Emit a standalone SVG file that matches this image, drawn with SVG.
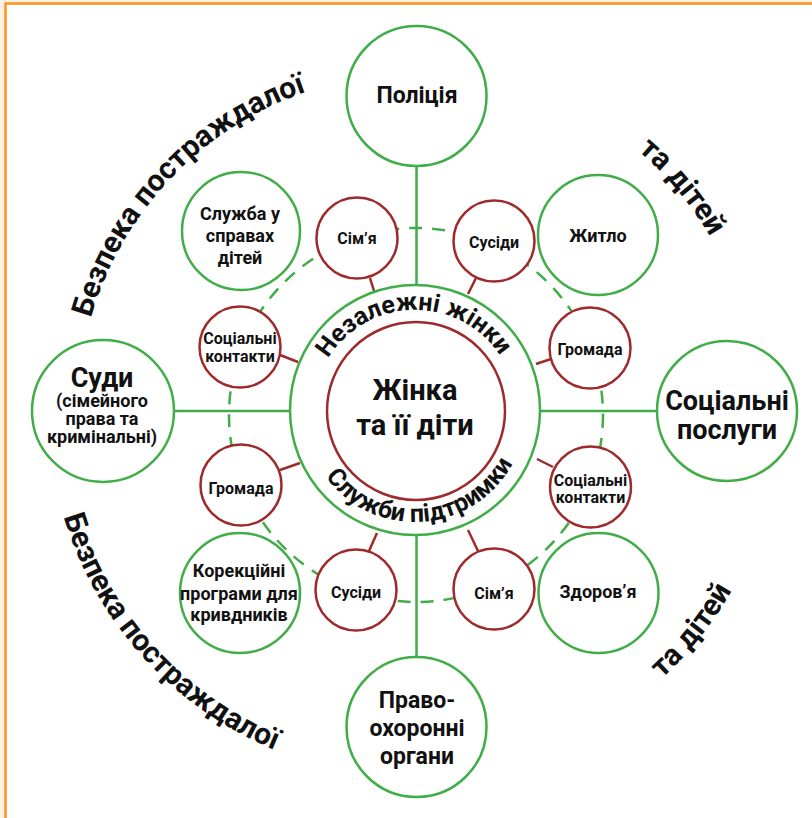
<svg xmlns="http://www.w3.org/2000/svg" width="812" height="818" viewBox="0 0 812 818">
  <defs>
    <style>
      .bg { fill: #fdf1e4; }
      .frame { fill: #ffffff; stroke: #f7941d; stroke-width: 2.5; }
      .g { fill: #ffffff; stroke: #41ad49; stroke-width: 2.5; }
      .r { fill: #ffffff; stroke: #9e2a2b; stroke-width: 2.5; }
      .gl { fill: none; stroke: #41ad49; stroke-width: 2.5; }
      .rl { fill: none; stroke: #9e2a2b; stroke-width: 2.5; }
      .dash { stroke-dasharray: 13 10; }
      text { font-family: Roboto, "Liberation Sans", sans-serif; font-weight: 700; fill: #111111; text-anchor: middle; }
      .s { font-size: 16px; }
      .m { font-size: 18px; }
      .l { font-size: 23px; }
      .xl { font-size: 27px; }
      .core { font-size: 29px; }
      .ring { font-size: 25px; }
      .outer { font-size: 30px; }
    </style>
    <!-- arcs carrying the curved captions -->
    <path id="arcInnerTop" d="M313.02,412.78 A102,102 0 0 1 516.98,409.22"/>
    <path id="arcInnerBottom" d="M304.27,418.74 A111,111 0 0 0 525.73,403.26"/>
    <path id="arcTL" d="M143.7,611.0 A337,337 0 0 1 601.5,130.3"/>
    <path id="arcTR" d="M243.5,114.0 A343,343 0 0 1 677.7,631.5"/>
    <path id="arcBL" d="M125.4,185.6 A367,367 0 0 0 610.0,721.9"/>
    <path id="arcBR" d="M241.9,731.2 A364,364 0 0 0 687.2,169.3"/>
  </defs>

  <!-- page and frame -->
  <rect class="bg" x="0" y="0" width="812" height="818"/>
  <rect class="frame" x="5.5" y="3.5" width="900" height="900"/>

  <!-- connectors -->
  <g id="connectors">
    <circle class="gl dash" cx="416" cy="415" r="187"/>
    <line class="gl" x1="416.5" y1="166" x2="416.5" y2="285"/>
    <line class="gl" x1="416.5" y1="535" x2="416.5" y2="657"/>
    <line class="gl" x1="174" y1="411" x2="290" y2="411"/>
    <line class="gl" x1="540" y1="411" x2="657" y2="411"/>
    <line class="rl" x1="370" y1="278" x2="374" y2="291"/>
    <line class="rl" x1="476" y1="278" x2="468" y2="294"/>
    <line class="rl" x1="551" y1="359" x2="536" y2="364"/>
    <line class="rl" x1="553" y1="467" x2="537" y2="459"/>
    <line class="rl" x1="478" y1="551" x2="468" y2="530"/>
    <line class="rl" x1="369" y1="551" x2="377" y2="533"/>
    <line class="rl" x1="280" y1="470" x2="300" y2="463"/>
    <line class="rl" x1="280" y1="355" x2="298" y2="362"/>
  </g>

  <!-- outer services -->
  <g id="police">
    <circle class="g" cx="416.5" cy="96" r="70"/>
    <text class="l" x="417" y="103">Поліція</text>
  </g>
  <g id="social-services">
    <circle class="g" cx="727" cy="411" r="70"/>
    <text class="xl" x="727" y="410">Соціальні</text>
    <text class="xl" x="727" y="439">послуги</text>
  </g>
  <g id="law-enforcement">
    <circle class="g" cx="416.5" cy="727" r="70"/>
    <text class="l" x="417" y="708">Право-</text>
    <text class="l" x="417" y="736">охоронні</text>
    <text class="l" x="417" y="764">органи</text>
  </g>
  <g id="courts">
    <circle class="g" cx="103" cy="411" r="71"/>
    <text class="xl" x="102" y="387">Суди</text>
    <text class="m" x="102" y="407">(сімейного</text>
    <text class="m" x="102" y="425">права та</text>
    <text class="m" x="102" y="443">кримінальні)</text>
  </g>
  <g id="children-service">
    <circle class="g" cx="241" cy="231" r="59"/>
    <text class="m" x="240" y="220">Служба у</text>
    <text class="m" x="240" y="242">справах</text>
    <text class="m" x="240" y="264">дітей</text>
  </g>
  <g id="housing">
    <circle class="g" cx="598" cy="235" r="60"/>
    <text class="m" x="598" y="241.5">Житло</text>
  </g>
  <g id="health">
    <circle class="g" cx="598.5" cy="593" r="60"/>
    <text class="m" x="598" y="598">Здоров’я</text>
  </g>
  <g id="perpetrator-programs">
    <circle class="g" cx="240" cy="593" r="60"/>
    <text class="m" x="239" y="577">Корекційні</text>
    <text class="m" x="239" y="600">програми для</text>
    <text class="m" x="239" y="621">кривдників</text>
  </g>

  <!-- inner circle of personal ties -->
  <g id="family-top">
    <circle class="r" cx="357" cy="238" r="40.5"/>
    <text class="s" x="357" y="244">Сім’я</text>
  </g>
  <g id="neighbours-top">
    <circle class="r" cx="494" cy="241" r="40.5"/>
    <text class="s" x="494" y="248">Сусіди</text>
  </g>
  <g id="community-right">
    <circle class="r" cx="590" cy="348" r="40.5"/>
    <text class="s" x="590" y="355">Громада</text>
  </g>
  <g id="contacts-right">
    <circle class="r" cx="590.5" cy="487" r="40.5"/>
    <text class="s" x="590.5" y="486">Соціальні</text>
    <text class="s" x="590.5" y="503">контакти</text>
  </g>
  <g id="family-bottom">
    <circle class="r" cx="494" cy="589" r="40.5"/>
    <text class="s" x="494" y="599">Сім’я</text>
  </g>
  <g id="neighbours-bottom">
    <circle class="r" cx="356" cy="590" r="40.5"/>
    <text class="s" x="356" y="598">Сусіди</text>
  </g>
  <g id="community-left">
    <circle class="r" cx="241" cy="485" r="40.5"/>
    <text class="s" x="241" y="494">Громада</text>
  </g>
  <g id="contacts-left">
    <circle class="r" cx="240" cy="347" r="40.5"/>
    <text class="s" x="240" y="344">Соціальні</text>
    <text class="s" x="240" y="362">контакти</text>
  </g>

  <!-- centre -->
  <g id="centre">
    <circle class="g" cx="415" cy="410" r="125"/>
    <circle class="r" cx="416" cy="411" r="89"/>
    <text class="core" x="415" y="400">Жінка</text>
    <text class="core" x="415" y="435">та її діти</text>
    <text class="ring"><textPath href="#arcInnerTop" startOffset="50%">Незалежні жінки</textPath></text>
    <text class="ring"><textPath href="#arcInnerBottom" startOffset="50%">Служби підтримки</textPath></text>
  </g>

  <!-- curved captions around the diagram -->
  <g id="captions">
    <text class="outer"><textPath href="#arcTL" startOffset="50%">Безпека постраждалої</textPath></text>
    <text class="outer"><textPath href="#arcTR" startOffset="50%">та дітей</textPath></text>
    <text class="outer"><textPath href="#arcBL" startOffset="50%">Безпека постраждалої</textPath></text>
    <text class="outer"><textPath href="#arcBR" startOffset="50%">та дітей</textPath></text>
  </g>
</svg>
